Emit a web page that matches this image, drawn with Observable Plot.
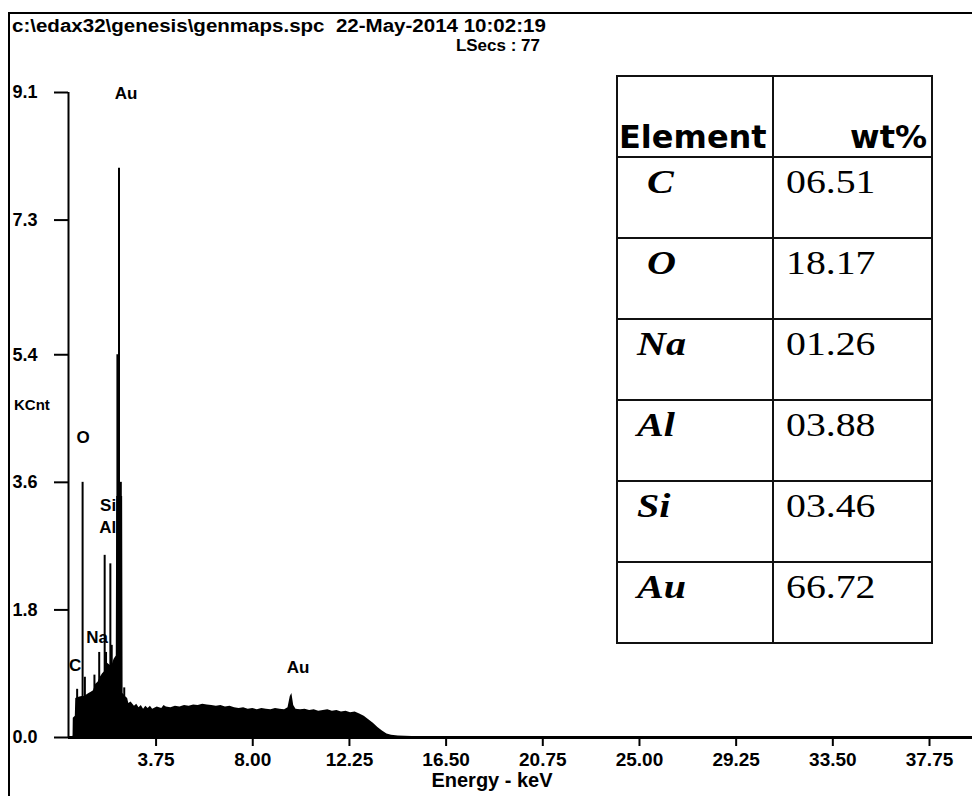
<!DOCTYPE html>
<html><head><meta charset="utf-8">
<script src="https://cdn.jsdelivr.net/npm/d3@7"></script>
<script src="https://cdn.jsdelivr.net/npm/@observablehq/plot@0.6"></script>
<style>
html,body{margin:0;padding:0;background:#fff;}
#wrap{position:relative;width:972px;height:796px;overflow:hidden;background:#fff;font-family:"Liberation Sans",Arial,sans-serif;color:#000;}
#chart{position:absolute;left:0;top:0;}
.ov{position:absolute;font-weight:bold;line-height:1;white-space:nowrap;}
#frame{position:absolute;left:8px;top:12px;width:990px;height:820px;border-left:2px solid #000;border-top:2px solid #000;}
g[aria-label="x-axis tick label"] text{font-size:19px;font-weight:bold;}
g[aria-label="y-axis tick label"] text{font-size:18px;font-weight:bold;}
g[aria-label="x-axis tick"], g[aria-label="y-axis tick"]{stroke-width:2px;}
#tbl{position:absolute;left:616px;top:75px;border-collapse:collapse;}
#tbl td{border:2px solid #111;height:79px;padding:0;vertical-align:top;line-height:1;}
.hd{font-family:"DejaVu Sans",sans-serif;font-weight:bold;font-size:32px;}
.nm{font-family:"Liberation Serif","Times New Roman",serif;font-weight:bold;font-style:italic;font-size:34px;display:inline-block;transform:scaleX(1.18);transform-origin:left top;}
.vl{font-family:"Liberation Serif","Times New Roman",serif;font-size:34px;display:inline-block;transform:scaleX(1.17);transform-origin:left top;}
</style></head>
<body><div id="wrap"><div id="chart"></div></div>
<script>
// ---- data ----
const headerPath = "c:\\edax32\\genesis\\genmaps.spc";
const headerDate = "22-May-2014 10:02:19";
const liveSecs = "LSecs : 77";
const yAxisTitle = "KCnt";
const xAxisTitle = "Energy - keV";
const xTicks = [3.75, 8.00, 12.25, 16.50, 20.75, 25.00, 29.25, 33.50, 37.75];
const yTicks = [0.0, 1.8, 3.6, 5.4, 7.3, 9.1];
const xDomain = [-0.1, 39.64];
const yDomain = [0, 9.1];

// continuum (keV, KCnt)
const contE = [0.05,0.10,0.11,0.20,0.22,0.30,0.40,0.50,0.60,0.70,0.80,0.90,1.00,1.10,1.20,1.30,1.40,1.55,1.60,1.80,1.90,2.00,2.02,2.28,2.30,2.40,2.50,2.55,2.65,2.80,2.90,3.00,3.10,3.20,3.30,3.40,3.50,3.60,3.80,4.00,4.10,4.20,4.40,4.60,4.80,5.00,5.20,5.40,5.60,5.80,6.00,6.20,6.40,6.60,6.80,7.00,7.20,7.40,7.60,7.80,8.00,8.20,8.40,8.60,8.80,9.00,9.20,9.40,9.55,9.65,9.72,9.80,9.90,10.10,10.30,10.50,10.70,10.90,11.10,11.30,11.50,11.70,11.90,12.10,12.30,12.50,12.70,12.90,13.10,13.30,13.50,13.70,13.90,14.10,14.40,15.00,39.64];
const contC = [0.00,0.02,0.27,0.30,0.55,0.56,0.57,0.58,0.58,0.60,0.62,0.64,0.66,0.75,0.78,0.85,0.90,0.95,1.05,1.00,1.10,1.15,3.40,3.40,0.62,0.58,0.55,0.48,0.50,0.44,0.47,0.42,0.45,0.40,0.44,0.41,0.44,0.40,0.43,0.41,0.45,0.43,0.42,0.44,0.43,0.45,0.44,0.46,0.45,0.47,0.46,0.45,0.44,0.45,0.43,0.44,0.42,0.41,0.42,0.40,0.41,0.39,0.41,0.40,0.39,0.41,0.40,0.39,0.42,0.58,0.62,0.45,0.40,0.39,0.40,0.38,0.39,0.37,0.38,0.39,0.37,0.38,0.36,0.37,0.35,0.36,0.33,0.30,0.25,0.20,0.14,0.09,0.05,0.03,0.02,0.015,0.01];

// narrow peaks (keV, KCnt)
const peakE = [0.28,0.52,0.62,1.04,1.25,1.49,1.55,1.74,1.80,2.05,2.12,2.20,2.35];
const peakC = [0.68,3.60,0.85,0.88,1.20,2.57,1.20,2.45,1.30,5.40,8.03,3.60,0.70];

// element labels on the spectrum
const labelText = ["Au","O","Si","Al","Na","C","Au"];
const labelE = [2.43,0.54,1.64,1.62,1.16,0.19,9.99];
const labelC = [9.08,4.23,3.27,2.96,1.41,1.02,0.99];

// composition table
const tableHeader = ["Element","wt%"];
const elements = ["C","O","Na","Al","Si","Au"];
const wtPct = ["06.51","18.17","01.26","03.88","03.46","66.72"];

// ---- build ----
const cont = contE.map((e,i)=>({e, c:contC[i]}));
const peaks = peakE.map((e,i)=>({e, c:peakC[i]}));
const labels = labelText.map((t,i)=>({t, e:labelE[i], c:labelC[i]}));

const chart = Plot.plot({
  width: 972, height: 796,
  marginLeft: 68, marginRight: 0, marginTop: 92, marginBottom: 59,
  style: {fontFamily: '"Liberation Sans", Arial, sans-serif', fontWeight: "bold", color: "#000", background: "transparent", overflow: "visible"},
  x: {domain: xDomain, ticks: xTicks, tickFormat: d => d.toFixed(2), tickSize: 9, tickPadding: 6, label: null},
  y: {domain: yDomain, ticks: yTicks, tickFormat: d => d.toFixed(1), tickSize: 14, tickPadding: 17, label: null},
  marks: [
    Plot.text(labels, {x: "e", y: "c", text: "t", fontSize: 17, fontWeight: "bold", fill: "#000", textAnchor: "middle", lineAnchor: "middle"}),
    Plot.areaY(cont, {x: "e", y: "c", fill: "#000", curve: "linear"}),
    Plot.ruleX(peaks, {x: "e", y1: 0, y2: "c", stroke: "#000", strokeWidth: 2}),
    Plot.ruleY([yDomain[0]], {stroke: "#000", strokeWidth: 3}),
    Plot.ruleX([xDomain[0]], {y1: yDomain[0], y2: yDomain[1], stroke: "#000", strokeWidth: 2})
  ]
});
document.getElementById("chart").appendChild(chart);

const wrap = document.getElementById("wrap");
function ov(html, css){ const d=document.createElement("div"); d.className="ov"; d.innerHTML=html; Object.assign(d.style, css); wrap.appendChild(d); return d; }
const fr = document.createElement("div"); fr.id="frame"; wrap.appendChild(fr);
ov(headerPath + "&nbsp;&nbsp;" + headerDate, {left:"12px", top:"17px", fontSize:"18px", transformOrigin:"left top", transform:"scaleX(1.14)"});
ov(liveSecs, {right:(972-540)+"px", top:"37px", fontSize:"17px"});
ov(yAxisTitle, {left:"14px", top:"397px", fontSize:"15px"});
const xt = ov(xAxisTitle, {left:"492px", top:"770px", fontSize:"20px"});
xt.style.transform = "translateX(-50%)";

// table
const tbl = document.createElement("table"); tbl.id="tbl";
let h = "<tr><td style='width:154px'><div class='hd' style='padding:44px 0 0 1px'>"+tableHeader[0]+"</div></td>"+
        "<td style='width:157px'><div class='hd' style='padding:44px 4px 0 0;text-align:right'>"+tableHeader[1]+"</div></td></tr>";
elements.forEach((el,i)=>{
  const name = el.length===1 ? "\u00a0"+el : el;
  h += "<tr><td><div style='padding:7px 0 0 19px'><span class='nm'>"+name+"</span></div></td>"+
       "<td><div style='padding:7px 0 0 12px'><span class='vl'>"+wtPct[i]+"</span></div></td></tr>";
});
tbl.innerHTML = h;
wrap.appendChild(tbl);
</script>
</body></html>
